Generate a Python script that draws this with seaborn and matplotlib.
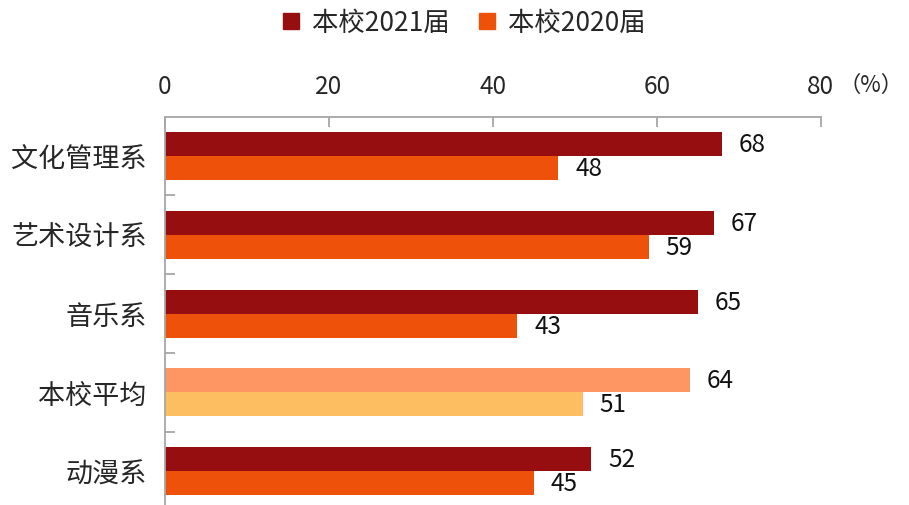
import pandas as pd
import numpy as np
import matplotlib
matplotlib.use("Agg")
import matplotlib.pyplot as plt
from matplotlib.lines import Line2D
import seaborn as sns

# === data ===
departments = ['文化管理系', '艺术设计系', '音乐系', '本校平均', '动漫系']
series_names = ['本校2021届', '本校2020届']
values_2021 = [68, 67, 65, 64, 52]
values_2020 = [48, 59, 43, 51, 45]
x_ticks = [0, 20, 40, 60, 80]

colors = ['#960E10', '#EE5109']
avg_colors = ['#FE9663', '#FDBE62']
spine_color = '#A6A6A6'

df = pd.DataFrame({
    'dept': departments * 2,
    'series': [series_names[0]] * len(departments) + [series_names[1]] * len(departments),
    'value': values_2021 + values_2020,
})

sns.set_style('white')
plt.rcParams['font.family'] = ['Noto Sans CJK SC', 'DejaVu Sans']

fig = plt.figure(figsize=(9.09, 5.06), dpi=100)
ax = fig.add_axes([0.1815, 0.0, 0.903 - 0.1815, 0.766])

sns.barplot(data=df, y='dept', x='value', hue='series', orient='h',
            order=departments, hue_order=series_names,
            palette=colors, width=0.61, saturation=1, legend=False,
            linewidth=0, ax=ax)

# 本校平均 uses lighter colours
avg_idx = departments.index('本校平均')
for cont, c in zip(ax.containers, avg_colors):
    cont.patches[avg_idx].set_facecolor(c)
    cont.patches[avg_idx].set_edgecolor('none')

for cont in ax.containers:
    ax.bar_label(cont, fmt='%d', padding=12, fontsize=17.5, color='#111111')

ax.set_xlim(0, 80)
ax.set_ylim(4.43, -0.49)
ax.xaxis.tick_top()
ax.set_xticks(x_ticks)
ax.set_xticklabels([str(t) for t in x_ticks])
ax.set_yticks(range(len(departments)))
ax.set_yticklabels(departments)
ax.set_yticks(np.arange(0.5, len(departments) - 0.5, 1), minor=True)
ax.set_xlabel('')
ax.set_ylabel('')

for side in ['right', 'bottom']:
    ax.spines[side].set_visible(False)
for side in ['top', 'left']:
    ax.spines[side].set_color(spine_color)
    ax.spines[side].set_linewidth(1.3)

ax.tick_params(axis='x', which='major', direction='in', length=7, width=1.3,
               color=spine_color, labelsize=17.5, pad=13, top=True, bottom=False)
ax.tick_params(axis='y', which='major', length=0, labelsize=19.5, pad=13)
ax.tick_params(axis='y', which='minor', direction='in', length=7, width=1.3,
               color=spine_color, left=True)

fig.text(0.994, 0.832, '（%）', ha='right', va='center', fontsize=16)

handles = [Line2D([0], [0], marker='s', linestyle='', markersize=11,
                  markerfacecolor=c, markeredgecolor=c) for c in colors]
fig.legend(handles, series_names, loc='center', bbox_to_anchor=(0.508, 0.953),
           ncol=2, frameon=False, fontsize=19, handletextpad=0.3,
           columnspacing=0.9, handlelength=1.0)

fig.savefig('out.png', dpi=100)
